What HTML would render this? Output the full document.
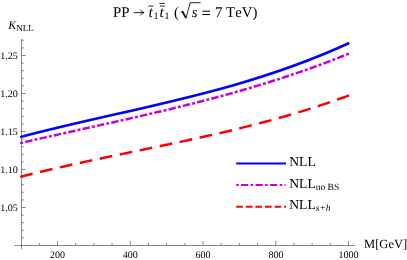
<!DOCTYPE html>
<html><head><meta charset="utf-8">
<style>
html,body{margin:0;padding:0;background:#fff;}
svg{display:block;will-change:transform;}
text{font-family:"Liberation Serif",serif;fill:#000;text-rendering:geometricPrecision;}
</style></head><body>
<svg width="407" height="260" viewBox="0 0 407 260">
<rect width="407" height="260" fill="#fff"/>
<g stroke="#3a3a3a" stroke-width="0.6" fill="none">
<path d="M21.5 39V249.3"/>
<path d="M14.3 245.5H355"/>
<path d="M39.31 245.5v-2.6"/><path d="M57.50 245.5v-4.4"/><path d="M75.69 245.5v-2.6"/><path d="M93.88 245.5v-2.6"/><path d="M112.06 245.5v-2.6"/><path d="M130.25 245.5v-4.4"/><path d="M148.44 245.5v-2.6"/><path d="M166.62 245.5v-2.6"/><path d="M184.81 245.5v-2.6"/><path d="M203.00 245.5v-4.4"/><path d="M221.19 245.5v-2.6"/><path d="M239.38 245.5v-2.6"/><path d="M257.56 245.5v-2.6"/><path d="M275.75 245.5v-4.4"/><path d="M293.94 245.5v-2.6"/><path d="M312.12 245.5v-2.6"/><path d="M330.31 245.5v-2.6"/><path d="M348.50 245.5v-4.4"/><path d="M21.5 237.90h2.4"/><path d="M21.5 230.30h2.4"/><path d="M21.5 222.70h2.4"/><path d="M21.5 215.10h2.4"/><path d="M21.5 207.50h4"/><path d="M21.5 199.90h2.4"/><path d="M21.5 192.30h2.4"/><path d="M21.5 184.70h2.4"/><path d="M21.5 177.10h2.4"/><path d="M21.5 169.50h4"/><path d="M21.5 161.90h2.4"/><path d="M21.5 154.30h2.4"/><path d="M21.5 146.70h2.4"/><path d="M21.5 139.10h2.4"/><path d="M21.5 131.50h4"/><path d="M21.5 123.90h2.4"/><path d="M21.5 116.30h2.4"/><path d="M21.5 108.70h2.4"/><path d="M21.5 101.10h2.4"/><path d="M21.5 93.50h4"/><path d="M21.5 85.90h2.4"/><path d="M21.5 78.30h2.4"/><path d="M21.5 70.70h2.4"/><path d="M21.5 63.10h2.4"/><path d="M21.5 55.50h4"/><path d="M21.5 47.90h2.4"/><path d="M21.5 40.30h2.4"/>
</g>
<path d="M20.20 137.11C129.87 108.12 239.53 93.62 349.20 43.00" stroke="#0000fa" stroke-width="2.5" fill="none"/>
<path d="M20.20 143.14L21.17 142.92L22.15 142.69L23.12 142.47M25.22 141.98L27.62 141.43L30.02 140.87L32.43 140.32M34.52 139.84L35.50 139.62L36.47 139.40L37.45 139.17M39.55 138.70L41.95 138.15L44.36 137.61L46.76 137.06M48.86 136.59L49.84 136.37L50.81 136.15L51.79 135.93M53.88 135.46L56.29 134.92L58.70 134.38L61.11 133.85M63.20 133.38L64.18 133.16L65.16 132.94L66.13 132.72M68.23 132.26L70.64 131.72L73.05 131.19L75.46 130.65M77.55 130.19L78.53 129.97L79.51 129.75L80.48 129.54M82.58 129.07L84.99 128.54L87.40 128.00L89.81 127.47M91.91 127.01L92.88 126.79L93.86 126.57L94.83 126.36M96.93 125.89L99.34 125.35L101.75 124.82L104.16 124.28M106.26 123.82L107.23 123.60L108.21 123.38L109.18 123.16M111.28 122.69L113.69 122.16L116.10 121.62L118.50 121.08M120.60 120.60L121.58 120.38L122.55 120.16L123.53 119.94M125.62 119.47L128.03 118.93L130.44 118.38L132.84 117.83M134.94 117.36L135.91 117.13L136.89 116.91L137.86 116.69M139.96 116.21L142.36 115.65L144.76 115.10L147.17 114.54M149.26 114.05L150.24 113.83L151.21 113.60L152.18 113.37M154.28 112.88L156.68 112.32L159.08 111.75L161.48 111.18M163.57 110.69L164.54 110.45L165.52 110.22L166.49 109.99M168.58 109.49L170.98 108.91L173.37 108.33L175.77 107.75M177.86 107.24L178.83 107.00L179.80 106.76L180.77 106.52M182.86 106.01L185.25 105.41L187.65 104.82L190.04 104.22M192.13 103.69L193.10 103.45L194.06 103.20L195.03 102.95M197.12 102.42L199.51 101.81L201.89 101.20L204.28 100.58M206.36 100.04L207.33 99.78L208.30 99.53L209.27 99.28M211.35 98.73L213.73 98.09L216.11 97.46L218.49 96.82M220.57 96.26L221.54 96.00L222.50 95.73L223.47 95.47M225.54 94.90L227.92 94.25L230.29 93.59L232.67 92.92M234.74 92.34L235.70 92.07L236.66 91.80L237.63 91.53M239.69 90.94L242.06 90.26L244.43 89.57L246.80 88.88M248.87 88.28L249.83 88.00L250.79 87.72L251.74 87.43M253.81 86.82L256.17 86.11L258.53 85.40L260.89 84.68M262.95 84.06L263.90 83.76L264.86 83.47L265.81 83.17M267.87 82.54L270.22 81.80L272.57 81.06L274.93 80.31M276.97 79.66L277.93 79.35L278.88 79.05L279.83 78.74M281.87 78.08L284.22 77.31L286.56 76.54L288.90 75.76M290.94 75.08L291.89 74.76L292.84 74.44L293.79 74.12M295.82 73.43L298.15 72.63L300.49 71.83L302.82 71.02M304.85 70.31L305.79 69.98L306.73 69.65L307.68 69.31M309.70 68.59L312.02 67.76L314.34 66.92L316.66 66.08M318.68 65.34L319.62 64.99L320.56 64.64L321.49 64.30M323.51 63.54L325.81 62.68L328.12 61.80L330.43 60.92M332.44 60.15L333.37 59.79L334.30 59.43L335.23 59.07M337.23 58.29L339.53 57.38L341.82 56.47L344.11 55.56M346.11 54.75L347.03 54.38L347.96 54.00L348.89 53.62" stroke="#cc00cc" stroke-width="2.5" fill="none"/>
<path d="M20.20 176.88L24.34 175.83L28.48 174.80L32.62 173.78M40.01 171.99L44.16 171.00L48.31 170.02L52.47 169.06M59.87 167.36L64.04 166.42L68.20 165.48L72.36 164.56M79.79 162.93L83.96 162.03L88.13 161.13L92.30 160.24M99.73 158.66L103.91 157.78L108.09 156.90L112.26 156.03M119.70 154.48L123.88 153.62L128.06 152.75L132.24 151.89M139.68 150.35L143.86 149.49L148.04 148.62L152.21 147.75M159.65 146.21L163.83 145.33L168.00 144.46L172.18 143.58M179.61 142.00L183.78 141.10L187.96 140.20L192.13 139.29M199.55 137.66L203.71 136.74L207.87 135.80L212.04 134.86M219.44 133.16L223.60 132.19L227.75 131.21L231.90 130.22M239.29 128.42L243.43 127.40L247.57 126.36L251.70 125.31M259.06 123.41L263.18 122.32L267.31 121.22L271.43 120.10M278.75 118.07L282.85 116.91L286.95 115.74L291.05 114.54M298.34 112.37L302.41 111.12L306.49 109.86L310.56 108.58M317.80 106.25L321.84 104.92L325.89 103.56L329.94 102.19M337.11 99.69L341.12 98.26L345.14 96.80L349.15 95.33" stroke="#fa0000" stroke-width="2.5" fill="none"/>
<path d="M236.2 163.5H286" stroke="#0000fa" stroke-width="2.1"/>
<path d="M236.2 185.1H285.6" stroke="#cc00cc" stroke-width="2" stroke-dasharray="2.5 2.4 7.1 2.5"/>
<path d="M236.2 206.7H286" stroke="#fa0000" stroke-width="2.1" stroke-dasharray="6.6 3"/>
<text x="289.3" y="165.8" font-size="13.6">NLL</text>
<text x="289.3" y="187.5" font-size="13.6">NLL<tspan font-size="9.5" dy="2">no BS</tspan></text>
<text x="289.3" y="209" font-size="13.6">NLL<tspan font-size="9.5" dy="2" font-style="italic">s+h</tspan></text>
<text x="364.1" y="247.8" font-size="12.5" style="font-kerning:none">M[GeV]</text>
<text x="8.2" y="29" font-size="12"><tspan font-style="italic">K</tspan><tspan font-size="9" dy="1.6">NLL</tspan></text>
<g font-size="14.8" style="font-kerning:none">
<text x="113.1" y="16.7">PP</text>
<path d="M133.7 12.6H143.6M140.4 9.8C141.1 11.3 142.3 12.2 144.1 12.6C142.3 13 141.1 13.9 140.4 15.4" stroke="#000" stroke-width="0.85" fill="none"/>
<text x="148.4" y="16.6" font-style="italic" font-size="15.5">t</text>
<path d="M148.5 6.6C149.3 5.7 150.3 5.7 151 6.1C151.7 6.5 152.7 6.5 153.5 5.6" stroke="#000" stroke-width="1" fill="none"/>
<text x="153.6" y="18.6" font-size="10">1</text>
<text x="159.4" y="16.6" font-style="italic" font-size="15.5">t</text>
<path d="M159.9 6.6C160.7 5.7 161.7 5.7 162.4 6.1C163.1 6.5 164.1 6.5 164.9 5.6" stroke="#000" stroke-width="1" fill="none"/>
<path d="M159.4 3.4H164.9" stroke="#000" stroke-width="0.85" fill="none"/>
<text x="164.6" y="18.6" font-size="10">1</text>
<text x="173.9" y="16.7">(</text>
<path d="M180.7 12.3L182.3 11.3L186 18.2L190.2 2.7H200.6" stroke="#000" stroke-width="0.85" fill="none"/>
<path d="M182.4 11.4L185.9 17.8" stroke="#000" stroke-width="1.7" fill="none"/>
<text x="191.8" y="16.7" font-style="italic">s</text>
<path d="M202.3 11.2H210.1M202.3 14.5H210.1" stroke="#000" stroke-width="1" fill="none"/>
<text x="214.9" y="16.7">7</text>
<text x="226.1" y="16.7">TeV)</text>
</g>
<g font-size="10" text-anchor="middle">
<text x="57.5" y="257.8">200</text><text x="130.3" y="257.8">400</text><text x="203" y="257.8">600</text><text x="276" y="257.8">800</text><text x="348.5" y="257.8">1000</text>
</g>
<g font-size="10" text-anchor="end">
<text x="17.7" y="58.5">1.25</text><text x="17.7" y="96.5">1.20</text><text x="17.7" y="134.5">1.15</text><text x="17.7" y="172.5">1.10</text><text x="17.7" y="210.5">1.05</text>
</g>
</svg>
</body></html>
